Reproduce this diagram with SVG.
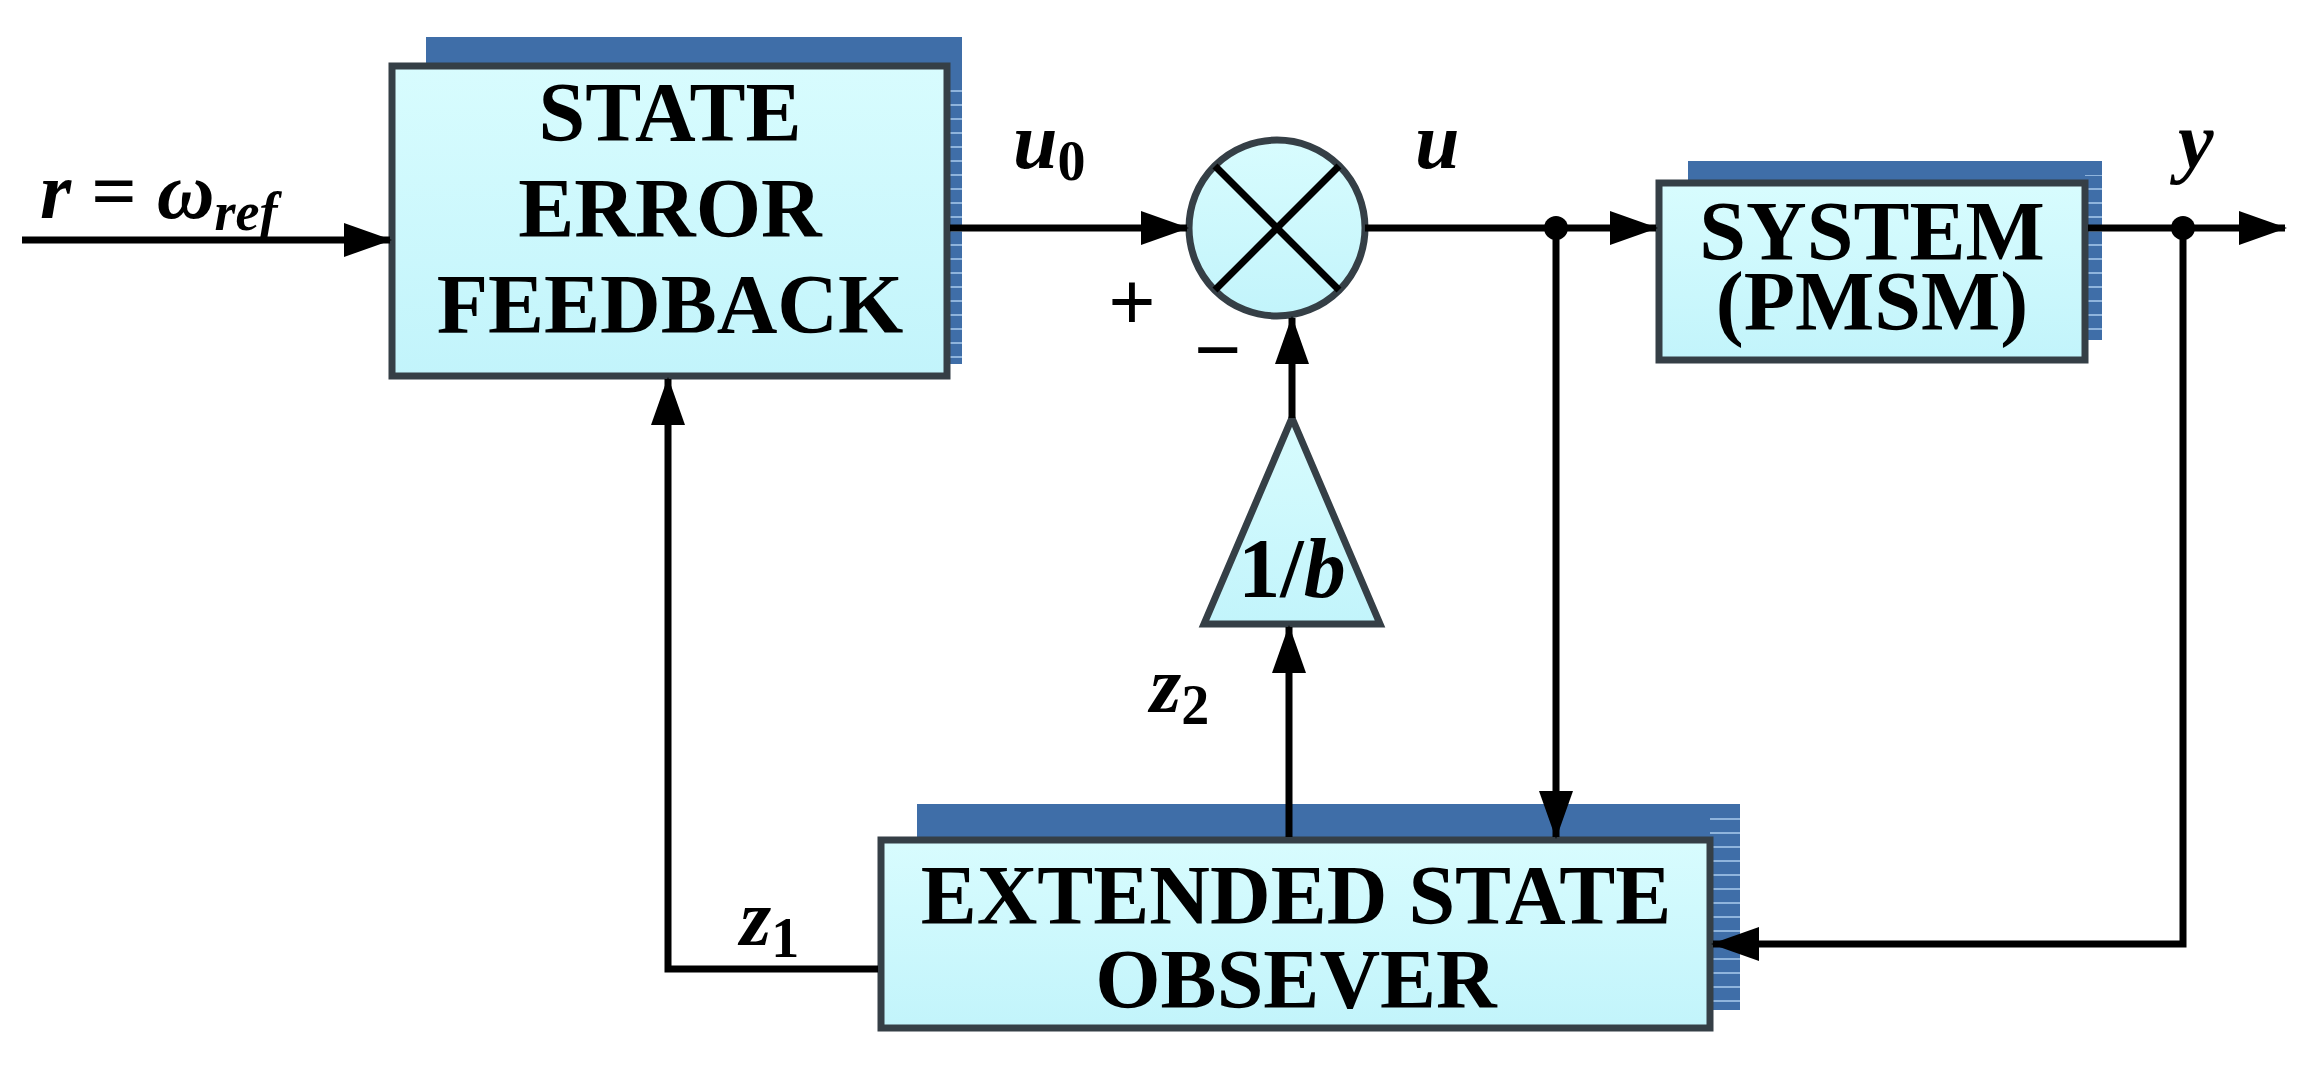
<svg xmlns="http://www.w3.org/2000/svg" width="2302" height="1090" viewBox="0 0 2302 1090">
<defs>
<linearGradient id="g" x1="0" y1="0" x2="0" y2="1"><stop offset="0" stop-color="#d8fcfe"/><stop offset="1" stop-color="#c2f4fb"/></linearGradient>
<pattern id="st" width="10" height="14" patternUnits="userSpaceOnUse"><rect width="10" height="14" fill="#3f6ea8"/><rect y="6" width="10" height="2" fill="#8fb4dc"/></pattern>
<marker id="a" viewBox="0 0 48 34" refX="46" refY="17" markerWidth="48" markerHeight="34" orient="auto" markerUnits="userSpaceOnUse"><path d="M0,0 L48,17 L0,34 z" fill="#000"/></marker>
<style>
.fr{fill:url(#g);stroke:#353f46;stroke-width:7}
.bk{fill:#3f6ea8}
.ln{fill:none;stroke:#000;stroke-width:7}
.t{font-family:"Liberation Serif",serif;font-weight:bold;font-size:84px;text-anchor:middle}
.i{font-family:"Liberation Serif",serif;font-weight:bold;font-style:italic;font-size:80px}
</style>
</defs>
<g id="sef">
<rect x="426" y="37" width="536" height="327" class="bk"/>
<rect x="947" y="80" width="15" height="284" fill="url(#st)"/>
<rect x="392" y="66" width="555" height="310" class="fr"/>
<text class="t" x="670" y="141">STATE</text>
<text class="t" x="670" y="237">ERROR</text>
<text class="t" x="670" y="333">FEEDBACK</text>
</g>
<g id="sum">
<circle cx="1277" cy="228" r="88" fill="url(#g)" stroke="#353f46" stroke-width="7"/>
<line class="ln" x1="1215" y1="166" x2="1339" y2="290"/>
<line class="ln" x1="1339" y1="166" x2="1215" y2="290"/>
</g>
<g id="system">
<rect x="1688" y="161" width="414" height="179" class="bk"/>
<rect x="2085" y="175" width="17" height="165" fill="url(#st)"/>
<rect x="1659" y="183" width="426" height="177" class="fr"/>
<text class="t" x="1872" y="260">SYSTEM</text>
<text class="t" x="1872" y="330">(PMSM)</text>
</g>
<g id="gain">
<polygon points="1292,418 1380,624 1204,624" class="fr"/>
<text class="t" x="1292" y="597" font-size="74"><tspan>1/</tspan><tspan font-style="italic">b</tspan></text>
</g>
<g id="eso">
<rect x="917" y="804" width="823" height="206" class="bk"/>
<rect x="1710" y="818" width="30" height="192" fill="url(#st)"/>
<rect x="881" y="840" width="829" height="188" class="fr"/>
<text class="t" x="1296" y="924">EXTENDED STATE</text>
<text class="t" x="1296" y="1008">OBSEVER</text>
</g>
<g id="connectors">
<line class="ln" x1="22" y1="240" x2="390" y2="240" marker-end="url(#a)"/>
<line class="ln" x1="950" y1="228" x2="1187" y2="228" marker-end="url(#a)"/>
<line class="ln" x1="1365" y1="228" x2="1656" y2="228" marker-end="url(#a)"/>
<line class="ln" x1="2088" y1="228" x2="2285" y2="228" marker-end="url(#a)"/>
<line class="ln" x1="1292" y1="418" x2="1292" y2="318" marker-end="url(#a)"/>
<line class="ln" x1="1289" y1="837" x2="1289" y2="627" marker-end="url(#a)"/>
<line class="ln" x1="1556" y1="228" x2="1556" y2="837" marker-end="url(#a)"/>
<polyline class="ln" points="2183,228 2183,944 1713,944" marker-end="url(#a)"/>
<polyline class="ln" points="878,969 668,969 668,379" marker-end="url(#a)"/>
<circle cx="1556" cy="228" r="12"/>
<circle cx="2183" cy="228" r="12"/>
</g>
<g id="labels">
<text class="i" x="40" y="218">r<tspan font-style="normal"> = </tspan>ω<tspan font-size="54" dy="12">ref</tspan></text>
<text class="i" x="1013" y="168">u<tspan font-style="normal" font-size="56" dy="12">0</tspan></text>
<text class="i" x="1415" y="168">u</text>
<text class="i" x="2178" y="168">y</text>
<text class="i" x="1150" y="712">z<tspan font-style="normal" font-size="56" dy="12">2</tspan></text>
<text class="i" x="740" y="945">z<tspan font-style="normal" font-size="56" dy="12">1</tspan></text>
<text class="t" x="1132" y="330" font-size="76">+</text>
<text class="t" x="1218" y="378" font-size="76">−</text>
</g>
</svg>
